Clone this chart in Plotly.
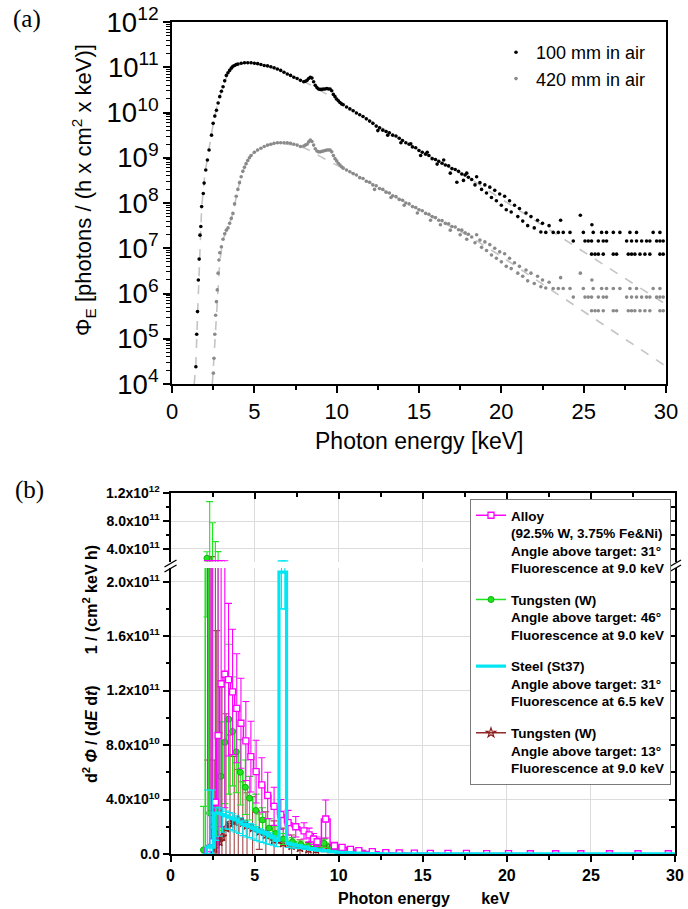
import plotly.graph_objects as go

# ======================= Panel (a) data (log10 of flux) =======================
E100 = [1.45,1.50,1.55,1.60,1.65,1.70,1.75,1.80,1.90,1.95,2.05,2.15,2.25,2.40,2.50,2.60,2.70,2.80,2.90,3.00,
        3.10,3.20,3.30,3.40,3.50,3.60,3.70,3.80,3.90,4.0,4.2,4.4,4.6,4.8,5.0,5.2,5.4,5.6,5.8,6.0,
        6.2,6.4,6.6,6.8,7.0,7.2,7.4,7.6,7.8,8.0,8.1,8.2,8.3,8.4,8.5,8.6,8.7,8.8,8.9,9.0,
        9.1,9.2,9.3,9.4,9.5,9.6,9.7,9.8,9.9,10.0,10.1,10.2,10.3,10.4,10.6,10.8,11.0,11.2,11.4,11.6,
        11.8,12.0,12.2,12.4,12.6,12.8,13.0,13.2,13.4,13.6,13.8,14.0,14.2,14.4,14.6,14.8,15.0,15.2,15.4,15.6,
        15.8,16.0,16.2,16.4,16.6,16.8,17.0,17.2,17.4,17.6,17.8,18.0]
LOG100 = [4.38,5.10,5.60,6.30,6.76,7.29,7.48,7.92,8.21,8.44,8.73,8.95,9.17,9.50,9.76,9.92,10.05,10.21,10.35,10.47,
          10.57,10.70,10.82,10.88,10.93,10.98,11.02,11.04,11.06,11.07,11.09,11.10,11.10,11.10,11.09,11.08,11.06,11.04,11.03,11.01,
          10.99,10.96,10.93,10.89,10.85,10.82,10.78,10.75,10.71,10.68,10.69,10.71,10.75,10.78,10.76,10.68,10.60,10.55,10.52,10.51,
          10.51,10.52,10.52,10.53,10.52,10.52,10.48,10.40,10.35,10.30,10.26,10.22,10.19,10.17,10.12,10.08,10.04,9.99,9.95,9.91,
          9.86,9.81,9.76,9.70,9.66,9.61,9.58,9.55,9.50,9.48,9.43,9.38,9.33,9.30,9.24,9.22,9.16,9.12,9.08,9.05,
          8.98,8.96,8.92,8.88,8.84,8.82,8.76,8.74,8.70,8.64,8.62,8.57]
E100_SCAT = [12.5,13.1,13.9,14.5,15.1,15.5,16.1,16.5,16.9,17.3,17.7,17.9,
             18.2,18.4,18.5,18.7,18.8,19.0,19.1,19.3,19.4,19.6,19.7,19.9,20.0,20.2,20.3,20.5,20.6,20.8,
             21.0,21.1,21.3,21.5,21.6,21.8,22.0,22.2,22.4,22.5,22.7,22.9,23.6,24.8,25.5]
LOG100_SCAT = [9.60,9.50,9.33,9.31,9.05,9.12,8.86,8.95,8.66,8.46,8.50,8.66,
               8.52,8.40,8.58,8.45,8.30,8.40,8.22,8.35,8.12,8.28,8.05,8.20,7.95,8.15,7.85,8.05,7.80,7.95,
               7.70,7.88,7.60,7.78,7.50,7.70,7.45,7.62,7.36,7.55,7.35,7.50,7.62,7.73,7.52]
# low-count floors
FLOOR1_E = [23.15,23.46,23.76,24.17,24.98,25.58,26.09,26.39,26.80,27.2,27.81,28.21,29.22,29.63]
FLOOR2_E = [24.37,25.08,25.28,25.48,25.89,26.19,26.39,27.61,27.91,28.21,28.52,28.82,29.02,29.43,29.63,29.83]
FLOOR3_E = [25.48,25.69,25.89,26.19,26.80,27.0,27.71,27.91,28.11,28.42,28.72,29.02,29.63,29.83]
LEVELS100 = [7.35, 7.16, 6.87]
LEVELS420 = [6.11, 5.92, 5.62]

E420 = [2.51,2.55,2.60,2.65,2.70,2.75,2.80,2.85,2.90,3.00,3.10,3.20,3.30,3.40,3.50,3.60,3.70,3.80,3.90,4.00,
        4.10,4.20,4.30,4.40,4.50,4.60,4.70,4.80,5.0,5.2,5.4,5.6,5.8,6.0,6.2,6.4,6.6,6.8,7.0,7.2,
        7.4,7.6,7.8,8.0,8.1,8.2,8.3,8.4,8.5,8.6,8.7,8.8,8.9,9.0,9.1,9.2,9.3,9.4,9.5,9.6,
        9.7,9.8,9.9,10.0,10.1,10.2,10.3,10.4,10.6,10.8,
        11.0,11.2,11.4,11.6,11.8,12.0,12.2,12.4,12.6,12.8,13.0,13.2,13.4,13.6,13.8,14.0,14.2,14.4,14.6,14.8,
        15.0,15.2,15.4,15.6,15.8,16.0,16.2,16.4,16.6,16.8,17.0,17.2,17.4,17.6,17.8,18.0]
LOG420 = [4.24,4.57,5.10,5.52,5.82,6.08,6.45,6.74,6.90,7.03,7.20,7.32,7.40,7.45,7.55,7.66,7.77,7.98,8.15,8.30,
          8.45,8.58,8.70,8.79,8.87,8.94,9.00,9.05,9.12,9.17,9.21,9.25,9.28,9.30,9.32,9.33,9.33,9.33,9.33,9.32,
          9.30,9.28,9.25,9.26,9.28,9.30,9.35,9.39,9.36,9.28,9.20,9.15,9.13,9.13,9.14,9.15,9.16,9.17,9.17,9.17,
          9.13,9.05,8.98,8.93,8.88,8.84,8.80,8.77,8.73,8.69,
          8.65,8.62,8.56,8.54,8.48,8.46,8.40,8.38,8.32,8.30,8.24,8.22,8.16,8.14,8.08,8.06,8.00,7.98,7.92,7.90,
          7.85,7.83,7.77,7.75,7.70,7.68,7.62,7.61,7.55,7.54,7.48,7.47,7.41,7.40,7.34,7.31]
E420_SCAT = [12.3,13.3,14.1,14.9,15.7,16.3,16.9,17.5,17.9,
             18.2,18.4,18.5,18.7,18.8,19.0,19.1,19.3,19.4,19.6,19.7,19.9,20.0,20.2,20.3,20.5,20.6,20.8,
             21.0,21.1,21.3,21.5,21.6,21.8,22.0,22.2,22.4,22.5,22.7,22.9,23.6,24.8,25.5]
LOG420_SCAT = [8.30,8.12,7.95,7.78,7.62,7.52,7.40,7.30,7.20,
               7.25,7.12,7.30,7.18,7.02,7.14,6.95,7.08,6.85,7.00,6.78,6.92,6.70,6.88,6.60,6.78,6.55,6.68,
               6.45,6.60,6.38,6.52,6.28,6.45,6.22,6.38,6.15,6.30,6.12,6.25,6.35,6.45,6.30]

# model (dashed) curves
MODEL_E100 = [1.35,1.45,1.55,1.65,1.80,2.0,2.25,2.5,2.8,3.1,3.4,3.8,4.3,4.8,5.5,6.5,7.5,8.0,8.5,9.0,9.5,10.0,10.5,
              11,12,13,14,16,18,20,22,24,26,28,30]
MODEL_LOG100 = [4.0,4.45,5.5,6.6,7.9,8.65,9.2,9.75,10.25,10.57,10.88,11.03,11.08,11.1,11.05,10.93,10.76,10.68,10.6,10.49,10.38,10.27,10.16,
                10.05,9.83,9.60,9.38,8.96,8.56,8.09,7.62,7.16,6.69,6.22,5.76]
MODEL_E420 = [2.45,2.55,2.65,2.75,2.9,3.1,3.4,3.7,4.0,4.3,4.6,5.0,5.5,6.0,6.5,7.0,7.5,8.0,8.5,9.0,9.5,10,10.5,
              11,12,13,14,16,18,20,22,24,26,28,30]
MODEL_LOG420 = [4.0,4.6,5.3,5.95,6.7,7.2,7.45,7.77,8.3,8.7,8.96,9.12,9.23,9.29,9.31,9.30,9.27,9.22,9.14,9.03,8.93,8.83,8.74,
                8.65,8.45,8.24,8.04,7.65,7.28,6.82,6.33,5.85,5.37,4.88,4.39]

# ======================= Panel (b) data (units of 1e10) =======================
ALLOY_E = [2.20,2.35,2.51,2.67,2.83,3.01,3.23,3.45,3.69,3.94,4.19,4.48,4.78,5.09,5.43,5.78,6.16,6.56,6.99,7.45,
           7.94,8.24,8.50,8.72,9.23,9.75,10.2,10.7,11.2,12.0,12.8,13.6,14.5,15.45,16.5,17.6,18.8,20.1,21.4,22.9,
           24.4,26.1,27.8,29.6]
ALLOY_Y = [0.2,0.4,0.9,3.8,8.7,12.5,13.2,12.8,11.9,10.7,9.6,8.3,7.15,6.05,5.07,4.3,3.5,2.9,2.3,2.0,
           1.7,1.4,1.1,0.9,2.57,0.6,0.49,0.34,0.25,0.17,0.1,0.08,0.06,0.05,0.04,0.04,0.03,0.03,0.02,0.02,
           0.02,0.02,0.02,0.02]
ALLOY_ERR = [23,23,22.4,19.5,14.5,10.5,9.8,5.6,4.6,4.0,3.3,2.9,2.6,2.3,2.0,1.7,1.4,1.1,0.9,0.75,
             0.6,0.5,0.4,0.35,1.4,0.25,0.2,0.15,0.1,0.08,0.05,0.04,0.03,0.03,0.02,0.02,0.02,0.02,0.01,0.01,
             0.01,0.01,0.01,0.01]

W46_E = [1.96,2.17,2.33,2.50,2.67,2.83,3.00,3.23,3.46,3.69,3.91,4.15,4.45,4.70,5.08,5.47,5.87,6.26,6.70,7.25,
         7.75,8.20,8.65,9.13,9.60,10.1,10.7,11.3,12.0,12.8]
W46_Y = [0.3,26.7,3.0,2.0,1.5,3.2,5.7,8.2,9.9,9.0,7.5,6.0,4.9,4.1,3.2,2.5,1.9,1.5,1.1,0.9,
         0.7,0.55,0.5,0.79,0.4,0.25,0.15,0.1,0.05,0.02]
W46_ERR = [3.2,9.3,105,75.6,49,33,4.0,4.5,5.5,4.0,3.0,2.4,2.0,1.6,1.2,0.9,0.7,0.5,0.4,0.3,
           0.25,0.2,0.2,0.3,0.15,0.1,0.08,0.05,0.03,0.02]

STEEL_E = [2.05,2.20,2.35,2.50,2.70,2.90,3.10,3.30,3.50,3.70,3.90,4.10,4.30,4.50,4.70,4.90,5.10,5.30,5.50,5.70,
           5.90,6.10,6.30,6.60,6.80,7.00,7.30,7.60,8.00,8.40,8.80,9.20,9.60,10.0,10.5,11.0,11.5,12.0,13.0,14.0,
           16.0,18.0,20.0,22.0,24.0,26.0,28.0,30.0]
STEEL_Y = [0.0,0.5,0.6,0.5,3.0,3.0,2.9,2.8,2.7,2.6,2.5,2.35,2.2,2.1,2.0,1.9,1.75,1.65,1.55,1.45,
           1.35,1.2,1.0,20.7,20.7,0.78,0.68,0.6,0.5,0.4,0.3,0.25,0.18,0.13,0.1,0.07,0.05,0.03,0.02,0.01,
           0.01,0.005,0.005,0.005,0.005,0.005,0.005,0.005]
STEEL_ERR_UP = [0,4.2,4.1,4.2,0.4,0.4,0.4,0.35,0.35,0.35,0.3,0.3,0.3,0.3,0.25,0.25,0.25,0.2,0.2,0.2,
                0.2,0.15,0.15,2.3,2.3,0.1,0.1,0.1,0.08,0.06,0.05,0.04,0.03,0.02,0.02,0.01,0.01,0.01,0,0,
                0,0,0,0,0,0,0,0]
STEEL_ERR_DN = [0,0.5,0.6,0.5,2.0,1.7,1.3,0.95,0.9,0.9,0.9,0.85,0.85,0.85,0.8,0.8,0.75,0.75,0.7,0.7,
                0.65,0.55,0.46,2.7,2.7,0.3,0.25,0.2,0.17,0.14,0.1,0.08,0.06,0.05,0.04,0.03,0.02,0.01,0,0,
                0,0,0,0,0,0,0,0]

W13_E = [2.20,2.35,2.45,2.60,2.75,2.90,3.06,3.30,3.54,3.79,4.03,4.30,4.55,4.88,5.28,5.67,6.16,6.70,7.20,7.70,
         8.20,8.65,9.13,9.50,10.0,10.6,11.3,12.0]
W13_Y = [0.3,0.5,0.6,0.4,0.9,0.9,1.27,1.9,2.25,2.37,2.5,2.3,2.1,1.9,1.64,1.4,1.03,0.8,0.6,0.45,
         0.35,0.33,0.66,0.4,0.2,0.1,0.05,0.02]
W13_ERR = [6.6,28.5,28.4,6.5,15.5,8.0,11.0,8.4,6.5,4.8,3.7,3.0,2.4,2.3,1.3,1.7,1.4,1.1,0.8,0.6,
           0.5,0.4,0.5,0.3,0.2,0.1,0.05,0.02]

SCALE_B = 1e10

X_TICKS = [0, 5, 10, 15, 20, 25, 30]
Y2_TICKS = [0, 4e10, 8e10, 1.2e11, 1.6e11, 2.0e11]
Y2_TEXT = ["0.0", "4.0x10<sup>10</sup>", "8.0x10<sup>10</sup>", "1.2x10<sup>11</sup>",
           "1.6x10<sup>11</sup>", "2.0x10<sup>11</sup>"]
Y2_MINOR = [2e10, 6e10, 1.0e11, 1.4e11, 1.8e11]
Y3_TICKS = [4e11, 8e11, 1.2e12]
Y3_TEXT = ["4.0x10<sup>11</sup>", "8.0x10<sup>11</sup>", "1.2x10<sup>12</sup>"]
Y3_MINOR = [6e11, 1.0e12]

LEG_ALLOY = "Alloy<br>(92.5% W, 3.75% Fe&Ni)<br>Angle above target: 31°<br>Fluorescence at 9.0 keV"
LEG_W46 = "Tungsten (W)<br>Angle above target: 46°<br>Fluorescence at 9.0 keV"
LEG_STEEL = "Steel (St37)<br>Angle above target: 31°<br>Fluorescence at 6.5 keV"
LEG_W13 = "Tungsten (W)<br>Angle above target: 13°<br>Fluorescence at 9.0 keV"

# ======================= figure =======================
W, H = 688, 909
def px(xp):
    return xp / W
def py(yp):
    return 1 - yp / H

SANS = "Liberation Sans, Arial, sans-serif"
SERIF = "Liberation Serif, Times New Roman, serif"

fig = go.Figure()

# ---- panel (a)
def pw(lst):
    return [10 ** v for v in lst]

fig.add_trace(go.Scatter(x=MODEL_E100, y=pw(MODEL_LOG100), mode="lines",
                         line=dict(color="#C4C4C4", width=1.6, dash="dash"),
                         showlegend=False, xaxis="x", yaxis="y", hoverinfo="skip"))
fig.add_trace(go.Scatter(x=MODEL_E420, y=pw(MODEL_LOG420), mode="lines",
                         line=dict(color="#C4C4C4", width=1.6, dash="dash"),
                         showlegend=False, xaxis="x", yaxis="y", hoverinfo="skip"))

x100 = E100 + E100_SCAT + FLOOR1_E + FLOOR2_E + FLOOR3_E
y100 = (pw(LOG100) + pw(LOG100_SCAT) + pw([LEVELS100[0]] * len(FLOOR1_E))
        + pw([LEVELS100[1]] * len(FLOOR2_E)) + pw([LEVELS100[2]] * len(FLOOR3_E)))
x420 = E420 + E420_SCAT + FLOOR1_E + FLOOR2_E + FLOOR3_E
y420 = (pw(LOG420) + pw(LOG420_SCAT) + pw([LEVELS420[0]] * len(FLOOR1_E))
        + pw([LEVELS420[1]] * len(FLOOR2_E)) + pw([LEVELS420[2]] * len(FLOOR3_E)))

fig.add_trace(go.Scatter(x=x100, y=y100, mode="markers", name="100 mm in air",
                         marker=dict(color="black", size=3.6),
                         xaxis="x", yaxis="y", legend="legend"))
fig.add_trace(go.Scatter(x=x420, y=y420, mode="markers", name="420 mm in air",
                         marker=dict(color="#8A8A8A", size=3.6),
                         xaxis="x", yaxis="y", legend="legend"))

# ---- panel (b)
def add_b(x, y, up, dn, name, color, ecolor, lw, marker, mode, rank):
    ys = [v * SCALE_B for v in y]
    ups = [v * SCALE_B for v in up]
    dns = [v * SCALE_B for v in dn]
    for xa, ya, show in (("x2", "y2", True), ("x3", "y3", False)):
        fig.add_trace(go.Scatter(
            x=x, y=ys, mode=mode, name=name, legend="legend2", legendgroup=name,
            legendrank=rank, showlegend=show,
            line=dict(shape="hvh", color=color, width=lw),
            marker=marker,
            error_y=dict(type="data", symmetric=False, array=ups, arrayminus=dns,
                         color=ecolor, thickness=1.1, width=3.5),
            xaxis=xa, yaxis=ya, hoverinfo="skip"))

BROWN = "#8B1A1A"
add_b(W13_E, W13_Y, W13_ERR, W13_ERR, LEG_W13, BROWN, "#A24848", 1.4,
      dict(symbol="star-open", size=7, color=BROWN, line=dict(width=1.2, color=BROWN)),
      "lines+markers", 4)
GREEN = "#1EE51E"
add_b(W46_E, W46_Y, W46_ERR, W46_ERR, LEG_W46, GREEN, GREEN, 1.5,
      dict(symbol="circle", size=6, color=GREEN, line=dict(width=1, color="#10B010")),
      "lines+markers", 2)
MAG = "#FF00FF"
add_b(ALLOY_E, ALLOY_Y, ALLOY_ERR, ALLOY_ERR, LEG_ALLOY, MAG, MAG, 1.5,
      dict(symbol="square", size=6, color="white", line=dict(width=1.3, color=MAG)),
      "lines+markers", 1)
CYAN = "#00E6F2"
add_b(STEEL_E, STEEL_Y, STEEL_ERR_UP, STEEL_ERR_DN, LEG_STEEL, CYAN, CYAN, 3.2,
      dict(size=1, color=CYAN), "lines", 3)

# dummy traces so the overlaying right-hand axes are drawn
fig.add_trace(go.Scatter(x=[], y=[], xaxis="x2", yaxis="y4", showlegend=False))
fig.add_trace(go.Scatter(x=[], y=[], xaxis="x3", yaxis="y5", showlegend=False))

AX = dict(showline=True, linecolor="black", zeroline=False, color="black")

fig.update_layout(
    width=W, height=H, margin=dict(l=0, r=0, t=0, b=0, pad=0, autoexpand=False),
    paper_bgcolor="white", plot_bgcolor="white",
    font=dict(family=SANS, color="black"),
    # panel (a)
    xaxis=dict(**AX, domain=[px(172), px(666)], anchor="y", range=[0, 30], linewidth=2,
               mirror=True, tickmode="array", tickvals=X_TICKS, ticks="outside", ticklen=7,
               tickwidth=2, tickfont=dict(size=22, family=SANS), showgrid=False, automargin=False,
               minor=dict(ticks="outside", ticklen=4, tickwidth=1.5, dtick=2.5, tick0=0)),
    yaxis=dict(**AX, domain=[py(384), py(22)], anchor="x", type="log", range=[4, 12], linewidth=2,
               mirror=True, dtick=1, exponentformat="power", ticks="outside", ticklen=7,
               tickwidth=2, tickfont=dict(size=22, family=SANS), showgrid=False, automargin=False,
               minor=dict(ticks="outside", ticklen=4, tickwidth=1, showgrid=False)),
    # panel (b) lower
    xaxis2=dict(**AX, domain=[px(170.5), px(675)], anchor="y2", range=[0, 30], linewidth=2,
                tickmode="array", tickvals=X_TICKS, ticks="outside", ticklen=6, tickwidth=2,
                tickfont=dict(size=16, family=SANS, weight="bold"), automargin=False,
                showgrid=True, gridcolor="#DCDCDC", gridwidth=1,
                minor=dict(ticks="outside", ticklen=4, tickwidth=1.5, dtick=2.5, tick0=0, showgrid=False)),
    yaxis2=dict(**AX, domain=[py(854), py(568)], anchor="x2", range=[0, 2.1e11], linewidth=2,
                tickmode="array", tickvals=Y2_TICKS, ticktext=["<b>%s</b>" % t for t in Y2_TEXT],
                ticks="outside", ticklen=6, tickwidth=2, tickfont=dict(size=14, family=SANS),
                showgrid=True, gridcolor="#DCDCDC", gridwidth=1, automargin=False,
                minor=dict(ticks="outside", ticklen=3, tickwidth=1.5, tickmode="array",
                           tickvals=Y2_MINOR, showgrid=False)),
    # panel (b) upper
    xaxis3=dict(**AX, domain=[px(170.5), px(675)], anchor="y3", side="top", range=[0, 30], linewidth=1.6,
                tickmode="array", tickvals=X_TICKS, ticks="inside", ticklen=6, tickwidth=2,
                showticklabels=False, showgrid=True, gridcolor="#DCDCDC", gridwidth=1, automargin=False,
                minor=dict(ticks="inside", ticklen=4, tickwidth=1.5, dtick=2.5, tick0=0, showgrid=False)),
    yaxis3=dict(**AX, domain=[py(561.5), py(493.3)], anchor="x3", range=[2.2e11, 1.2e12], linewidth=2,
                tickmode="array", tickvals=Y3_TICKS, ticktext=["<b>%s</b>" % t for t in Y3_TEXT],
                ticks="outside", ticklen=6, tickwidth=2, tickfont=dict(size=14, family=SANS),
                showgrid=True, gridcolor="#DCDCDC", gridwidth=1, automargin=False,
                minor=dict(ticks="outside", ticklen=3, tickwidth=1.5, tickmode="array",
                           tickvals=Y3_MINOR, showgrid=False)),
    yaxis4=dict(**AX, overlaying="y2", side="right", anchor="x2", range=[0, 2.1e11], linewidth=1.6,
                tickmode="array", tickvals=Y2_TICKS, ticks="inside", ticklen=6, tickwidth=2,
                showticklabels=False, showgrid=False, automargin=False,
                minor=dict(ticks="inside", ticklen=4, tickwidth=1.5, tickmode="array",
                           tickvals=Y2_MINOR, showgrid=False)),
    yaxis5=dict(**AX, overlaying="y3", side="right", anchor="x3", range=[2.2e11, 1.2e12], linewidth=1.6,
                tickmode="array", tickvals=Y3_TICKS, ticks="inside", ticklen=6, tickwidth=2,
                showticklabels=False, showgrid=False, automargin=False,
                minor=dict(ticks="inside", ticklen=4, tickwidth=1.5, tickmode="array",
                           tickvals=Y3_MINOR, showgrid=False)),
    legend=dict(x=px(496), y=py(34), xanchor="left", yanchor="top", bgcolor="rgba(0,0,0,0)",
                font=dict(size=18, family=SANS), tracegroupgap=0, itemsizing="trace"),
    legend2=dict(x=px(470), y=py(499), xanchor="left", yanchor="top", bgcolor="white",
                 bordercolor="#7A7A7A", borderwidth=1, font=dict(size=13.5, family=SANS, weight="bold"),
                 traceorder="grouped", tracegroupgap=11, valign="top", itemwidth=30),
)

ann = [
    dict(text="(a)", x=px(27), y=py(19), font=dict(size=25, family=SERIF)),
    dict(text="(b)", x=px(29), y=py(490), font=dict(size=25, family=SERIF)),
    dict(text="Photon energy [keV]", x=px(419), y=py(441), font=dict(size=23, family=SANS)),
    dict(text="Φ<sub>E</sub> [photons / (h x cm<sup>2</sup> x keV)]", x=px(84), y=py(190),
         textangle=-90, font=dict(size=22, family=SANS)),
    dict(text="<b>Photon energy" + "\u00a0" * 7 + "keV</b>", x=px(424), y=py(898),
         font=dict(size=16, family=SANS)),
    dict(text="<b>d<sup>2</sup> <i>Φ</i> / (d<i>E</i> d<i>t</i>)" + "\u00a0" * 7
              + "1 / (cm<sup>2</sup> keV h)</b>", x=px(90), y=py(664),
         textangle=-90, font=dict(size=16, family=SANS)),
]
for a in ann:
    a.update(xref="paper", yref="paper", showarrow=False, xanchor="center", yanchor="middle")
fig.update_layout(annotations=ann)

# axis-break marks
shapes = []
for xc in (170.5, 675):
    for dy in (0, 5):
        shapes.append(dict(type="line", xref="paper", yref="paper",
                           x0=px(xc - 6), y0=py(567 + dy), x1=px(xc + 6), y1=py(560 + dy),
                           line=dict(color="black", width=1.4)))
fig.update_layout(shapes=shapes)

fig.write_html("out.html")
